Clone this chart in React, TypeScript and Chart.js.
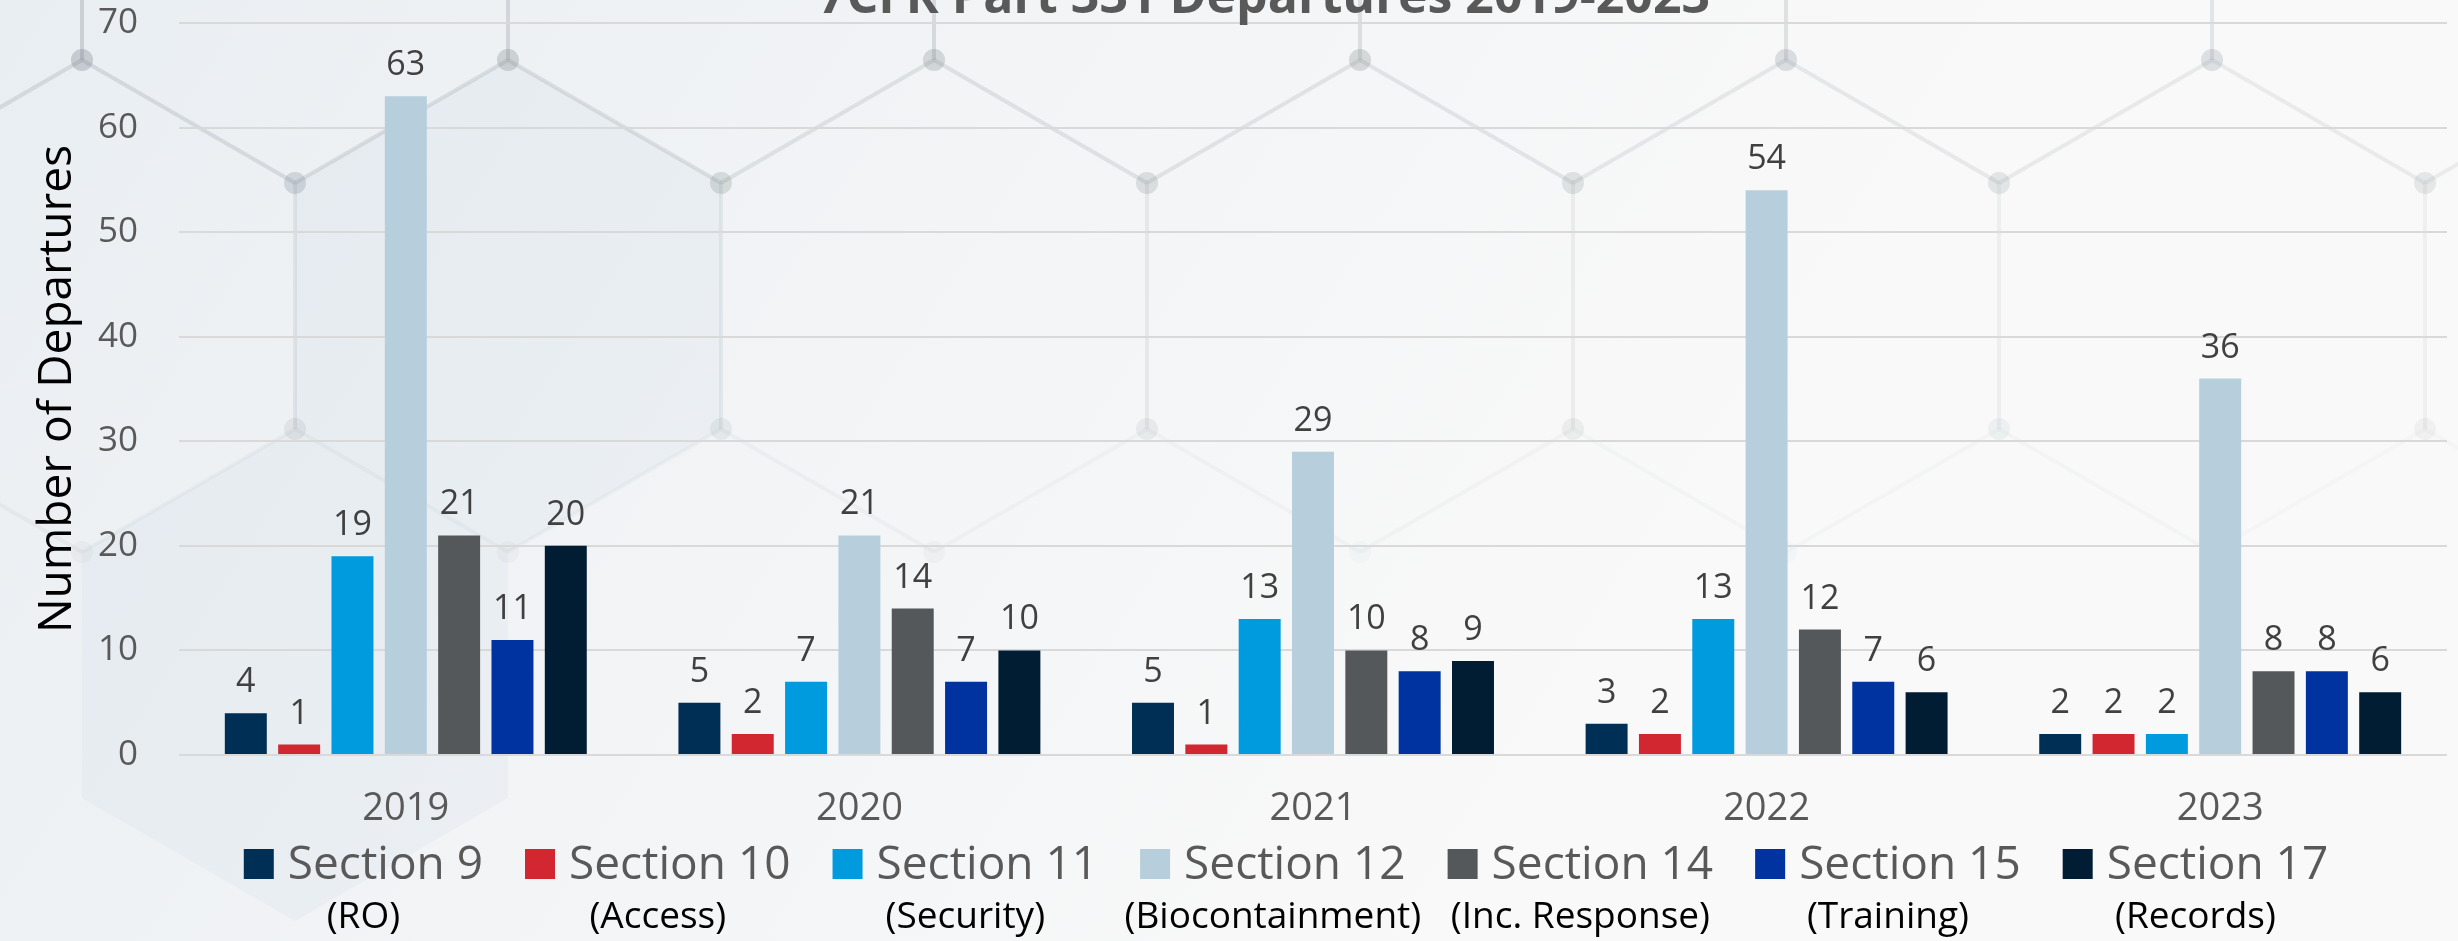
import { useEffect, useRef } from "react";
import { Chart, registerables } from "chart.js";

Chart.register(...registerables);

// ---------- data ----------
const chartTitle = "7CFR Part 331 Departures 2019-2023";
const yAxisTitle = "Number of Departures";
const years = ["2019", "2020", "2021", "2022", "2023"];
const sectionNames = ["Section 9", "Section 10", "Section 11", "Section 12", "Section 14", "Section 15", "Section 17"];
const sectionTopics = ["(RO)", "(Access)", "(Security)", "(Biocontainment)", "(Inc. Response)", "(Training)", "(Records)"];
const section9 = [4, 5, 5, 3, 2];
const section10 = [1, 2, 1, 2, 2];
const section11 = [19, 7, 13, 13, 2];
const section12 = [63, 21, 29, 54, 36];
const section14 = [21, 14, 10, 12, 8];
const section15 = [11, 7, 8, 7, 8];
const section17 = [20, 10, 9, 6, 6];
const sectionColors = ["#002F56", "#D22630", "#009ADE", "#B7CFDC", "#54585A", "#0032A0", "#001D33"];
const yMin = 0;
const yMax = 70;
const yStep = 10;

const seriesValues = [section9, section10, section11, section12, section14, section15, section17];

const FONT = "'Open Sans', 'DejaVu Sans', sans-serif";

// ---------- plugins ----------
const backgroundPlugin = {
  id: "bgDecor",
  beforeDraw(chart: any) {
    const { ctx, width, height } = chart;
    ctx.save();
    const g = ctx.createLinearGradient(0, 0, width * 0.6, height);
    g.addColorStop(0, "#E9EEF2");
    g.addColorStop(0.5, "#F2F4F6");
    g.addColorStop(1, "#F9F9F9");
    ctx.fillStyle = g;
    ctx.fillRect(0, 0, width, height);

    const r = 246;
    const dx = 213;
    const rowH = 369;
    const hexPath = (cx: number, cy: number) => {
      ctx.beginPath();
      ctx.moveTo(cx, cy - r);
      ctx.lineTo(cx + dx, cy - r / 2);
      ctx.lineTo(cx + dx, cy + r / 2);
      ctx.lineTo(cx, cy + r);
      ctx.lineTo(cx - dx, cy + r / 2);
      ctx.lineTo(cx - dx, cy - r / 2);
      ctx.closePath();
    };
    ctx.fillStyle = "rgba(175,200,215,0.10)";
    hexPath(508, 306);
    ctx.fill();
    hexPath(295, 675);
    ctx.fill();

    const fade = (x: number, y: number) => Math.max(0, 0.13 * (1 - y / 640) * (1 - 0.45 * (x / width)));
    for (let row = 0; row < 3; row++) {
      const cy = -63 + row * rowH;
      const off = row % 2 ? dx : 0;
      for (let k = -1; k < 7; k++) {
        const cx = 295 + off + k * 2 * dx;
        const pts = [
          [cx, cy - r],
          [cx + dx, cy - r / 2],
          [cx + dx, cy + r / 2],
          [cx, cy + r],
          [cx - dx, cy + r / 2],
          [cx - dx, cy - r / 2],
        ];
        for (let i = 0; i < 6; i++) {
          const a = pts[i];
          const b = pts[(i + 1) % 6];
          const alpha = fade((a[0] + b[0]) / 2, (a[1] + b[1]) / 2);
          if (alpha <= 0) continue;
          ctx.strokeStyle = `rgba(120,128,136,${alpha})`;
          ctx.lineWidth = 4;
          ctx.beginPath();
          ctx.moveTo(a[0], a[1]);
          ctx.lineTo(b[0], b[1]);
          ctx.stroke();
        }
        for (const p of pts) {
          const alpha = fade(p[0], p[1]);
          if (alpha <= 0) continue;
          ctx.fillStyle = `rgba(120,128,136,${alpha})`;
          ctx.beginPath();
          ctx.arc(p[0], p[1], 11, 0, Math.PI * 2);
          ctx.fill();
        }
      }
    }
    ctx.restore();
  },
};

const valueLabelPlugin = {
  id: "valueLabels",
  afterDatasetsDraw(chart: any) {
    const ctx = chart.ctx;
    ctx.save();
    ctx.font = `34px ${FONT}`;
    ctx.fillStyle = "#404040";
    ctx.textAlign = "center";
    ctx.textBaseline = "alphabetic";
    chart.data.datasets.forEach((ds: any, i: number) => {
      const meta = chart.getDatasetMeta(i);
      meta.data.forEach((el: any, j: number) => {
        ctx.fillText(String(ds.data[j]), el.x, el.y - 21);
      });
    });
    ctx.restore();
  },
};

const titlePlugin = {
  id: "topTitle",
  afterDraw(chart: any) {
    const ctx = chart.ctx;
    ctx.save();
    ctx.font = `bold 50px ${FONT}`;
    ctx.fillStyle = "#595959";
    ctx.textAlign = "center";
    ctx.textBaseline = "alphabetic";
    ctx.fillText(chartTitle, 1264, 13);
    ctx.restore();
  },
};

const legendPlugin = {
  id: "twoLineLegend",
  afterDraw(chart: any) {
    const ctx = chart.ctx;
    ctx.save();
    const box = 30;
    const boxGap = 14;
    const itemGap = 42;
    const boxTop = 849;
    const mainBase = 879;
    const subBase = 928;
    ctx.font = `46px ${FONT}`;
    const widths = sectionNames.map((n) => box + boxGap + ctx.measureText(n).width);
    const total = widths.reduce((a, b) => a + b, 0) + itemGap * (widths.length - 1);
    let x = 1286 - total / 2;
    ctx.textBaseline = "alphabetic";
    sectionNames.forEach((name, i) => {
      ctx.fillStyle = sectionColors[i];
      ctx.fillRect(x, boxTop, box, box);
      ctx.font = `46px ${FONT}`;
      ctx.fillStyle = "#595959";
      ctx.textAlign = "left";
      ctx.fillText(name, x + box + boxGap, mainBase);
      ctx.font = `37px ${FONT}`;
      ctx.fillStyle = "#000000";
      ctx.textAlign = "center";
      ctx.fillText(sectionTopics[i], x + widths[i] / 2, subBase);
      x += widths[i] + itemGap;
    });
    ctx.restore();
  },
};

export default function App() {
  const ref = useRef<HTMLCanvasElement>(null);

  useEffect(() => {
    document.body.style.margin = "0";
    const canvas = ref.current;
    if (!canvas) return;
    const chart = new Chart(canvas, {
      type: "bar",
      data: {
        labels: years,
        datasets: sectionNames.map((name, i) => ({
          label: name,
          data: seriesValues[i],
          backgroundColor: sectionColors[i],
          borderWidth: 0,
          barPercentage: 0.787,
          categoryPercentage: 0.823,
        })),
      },
      options: {
        responsive: false,
        animation: false,
        devicePixelRatio: 1,
        layout: { padding: { top: 23, right: 11, bottom: 0, left: 30 } },
        plugins: {
          legend: { display: false },
          title: { display: false },
          tooltip: { enabled: false },
        },
        scales: {
          x: {
            grid: { display: false, drawTicks: false },
            border: { display: false },
            ticks: { color: "#595959", font: { family: FONT, size: 38 }, padding: 31 },
            afterFit(scale: any) {
              scale.height = 186;
            },
          },
          y: {
            min: yMin,
            max: yMax,
            ticks: { stepSize: yStep, color: "#595959", font: { family: FONT, size: 35 }, padding: 41 },
            grid: { color: "#D9D9D9", lineWidth: 2, drawTicks: false },
            border: { display: false },
            title: {
              display: true,
              text: yAxisTitle,
              color: "#000000",
              font: { family: FONT, size: 46 },
              padding: { top: 0, bottom: 0 },
            },
            afterFit(scale: any) {
              scale.width = 149;
              scale.paddingTop = 0;
              scale.paddingBottom = 0;
            },
          },
        },
      },
      plugins: [backgroundPlugin, valueLabelPlugin, titlePlugin, legendPlugin],
    });
    return () => chart.destroy();
  }, []);

  return (
    <div style={{ position: "absolute", left: 0, top: 0, width: 2458, height: 941, overflow: "hidden" }}>
      <canvas ref={ref} width={2458} height={941} style={{ display: "block", width: 2458, height: 941 }} />
    </div>
  );
}
